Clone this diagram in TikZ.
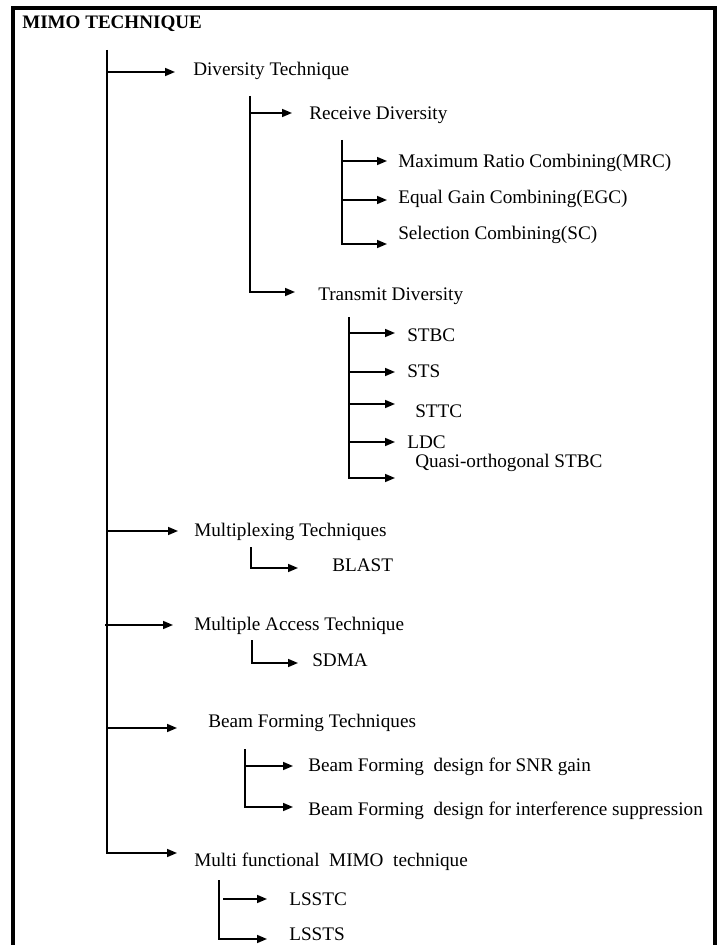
\documentclass[tikz,border=0pt]{standalone}
\usepackage{fontspec}
\setmainfont{Liberation Serif}
\usetikzlibrary{arrows.meta}
\begin{document}
\begin{tikzpicture}[x=0.75pt,y=-0.75pt,
  lbl/.style={anchor=base west,inner sep=0pt,font=\fontsize{14.4}{17}\selectfont},
  ttl/.style={anchor=base west,inner sep=0pt,font=\fontsize{14.3}{17}\selectfont\bfseries},
  ln/.style={line width=1.2pt},
  arr/.style={ln,-{Triangle[length=7.5pt,width=6pt]}},
  frame/.style={line width=3pt}]
\useasboundingbox (0,0) rectangle (722,945);
\fill[white] (0,0) rectangle (722,945);
\draw[frame] (13,947) -- (13,8) -- (715,8) -- (715,947);

% texts
\node[ttl] (title) at (22,29) {MIMO TECHNIQUE};
\node[lbl] (div) at (193,76) {Diversity Technique};
\node[lbl] (rx) at (309,120) {Receive Diversity};
\node[lbl] (mrc) at (398,167) {Maximum Ratio Combining(MRC)};
\node[lbl] (egc) at (398,203) {Equal Gain Combining(EGC)};
\node[lbl] (sc) at (398,239) {Selection Combining(SC)};
\node[lbl] (tx) at (318,300) {Transmit Diversity};
\node[lbl] (stbc) at (407,341) {STBC};
\node[lbl] (sts) at (407,377) {STS};
\node[lbl] (sttc) at (415,417) {STTC};
\node[lbl] (ldc) at (407,448) {LDC};
\node[lbl] (quasi) at (415,467) {Quasi-orthogonal STBC};
\node[lbl] (mux) at (194,536) {Multiplexing Techniques};
\node[lbl] (blast) at (332,571) {BLAST};
\node[lbl] (ma) at (194,630) {Multiple Access Technique};
\node[lbl] (sdma) at (312,666) {SDMA};
\node[lbl] (bf) at (208,727) {Beam Forming Techniques};
\node[lbl] (snr) at (308,771) {Beam Forming\ \ design for SNR gain};
\node[lbl] (intf) at (308,815) {Beam Forming\ \ design for interference suppression};
\node[lbl] (mf) at (194,866) {Multi functional\ \ MIMO\ \ technique};
\node[lbl] (lsstc) at (289,905) {LSSTC};
\node[lbl] (lssts) at (289,940) {LSSTS};

% tree coordinates
\coordinate (v0) at (107,50);
\coordinate (v0e) at (107,853);
\coordinate (v1) at (250,96);
\coordinate (v2) at (342,140);
\coordinate (v3) at (349,317);
\coordinate (v4) at (245,749);
\coordinate (v5) at (219,880);
\coordinate (vb) at (251,547);
\coordinate (vs) at (252,640);

\coordinate (tdiv) at (175,72);
\coordinate (trx) at (292,113);
\coordinate (tmrc) at (387,161);
\coordinate (tegc) at (387,200);
\coordinate (tsc) at (387,244);
\coordinate (ttx) at (295,292);
\coordinate (tstbc) at (395,333);
\coordinate (tsts) at (395,372);
\coordinate (tsttc) at (395,404);
\coordinate (tldc) at (395,442);
\coordinate (tquasi) at (395,478);
\coordinate (tmux) at (178,531);
\coordinate (tblast) at (298,568);
\coordinate (tma) at (173,625);
\coordinate (tsdma) at (298,663);
\coordinate (tbf) at (177,728);
\coordinate (tsnr) at (293,766);
\coordinate (tintf) at (293,807);
\coordinate (tmf) at (177,853);
\coordinate (tlsstc) at (267,899);
\coordinate (tlssts) at (267,939);

% main trunk
\draw[arr] (v0) -- (v0e) -- (tmf);
\draw[arr] (v0 |- tdiv) -- (tdiv);
\draw[arr] (v0 |- tmux) -- (tmux);
\draw[arr] ([xshift=-1.5pt]v0 |- tma) -- (tma);
\draw[arr] (v0 |- tbf) -- (tbf);

% diversity
\draw[arr] (v1) |- (ttx);
\draw[arr] (v1 |- trx) -- (trx);
\draw[arr] (v2) |- (tsc);
\draw[arr] (v2 |- tmrc) -- (tmrc);
\draw[arr] (v2 |- tegc) -- (tegc);
\draw[arr] (v3) |- (tquasi);
\draw[arr] (v3 |- tstbc) -- (tstbc);
\draw[arr] (v3 |- tsts) -- (tsts);
\draw[arr] (v3 |- tsttc) -- (tsttc);
\draw[arr] (v3 |- tldc) -- (tldc);

% multiplexing / multiple access
\draw[arr] (vb) |- (tblast);
\draw[arr] (vs) |- (tsdma);

% beam forming
\draw[arr] (v4) |- (tintf);
\draw[arr] (v4 |- tsnr) -- (tsnr);

% multi functional
\draw[arr] (v5) |- (tlssts);
\draw[arr] ([xshift=3pt]v5 |- tlsstc) -- (tlsstc);
\end{tikzpicture}
\end{document}
